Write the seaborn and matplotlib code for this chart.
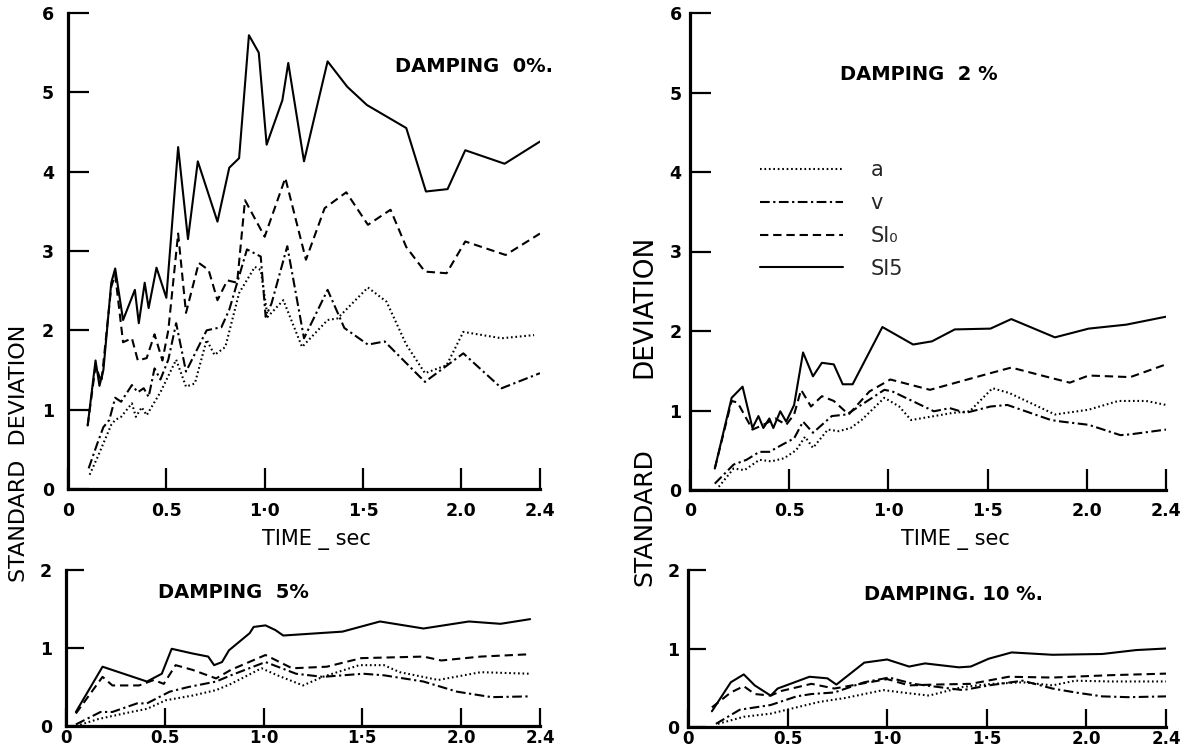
import matplotlib
matplotlib.use("Agg")
import matplotlib.pyplot as plt
from matplotlib.lines import Line2D
import seaborn as sns
import pandas as pd

# ---------------- data: standard deviation vs time (sec) ----------------
SERIES = ["a", "v", "SI\u2080", "SI5"]

# damping 0 %
T0_SI5 = [0.10, 0.14, 0.16, 0.18, 0.22, 0.24, 0.28, 0.34, 0.36, 0.39, 0.41, 0.45, 0.50, 0.56, 0.61,
          0.66, 0.76, 0.82, 0.87, 0.92, 0.97, 1.01, 1.09, 1.12, 1.20, 1.32, 1.42, 1.52, 1.72, 1.82,
          1.93, 2.02, 2.22, 2.40]
S0_SI5 = [0.80, 1.62, 1.30, 1.50, 2.60, 2.78, 2.13, 2.51, 2.09, 2.60, 2.28, 2.79, 2.41, 4.31, 3.15,
          4.13, 3.37, 4.05, 4.17, 5.72, 5.50, 4.34, 4.90, 5.37, 4.13, 5.39, 5.07, 4.84, 4.55, 3.75,
          3.78, 4.27, 4.10, 4.38]
T0_SI0 = [0.10, 0.14, 0.17, 0.22, 0.24, 0.28, 0.325, 0.355, 0.40, 0.44, 0.48, 0.51, 0.56, 0.60,
          0.665, 0.715, 0.76, 0.81, 0.86, 0.90, 1.00, 1.105, 1.21, 1.305, 1.415, 1.525, 1.64, 1.72,
          1.815, 1.925, 2.02, 2.225, 2.40]
S0_SI0 = [0.80, 1.55, 1.35, 2.55, 2.70, 1.85, 1.90, 1.62, 1.65, 1.95, 1.62, 2.00, 3.22, 2.22,
          2.85, 2.76, 2.38, 2.63, 2.60, 3.64, 3.18, 3.92, 2.89, 3.54, 3.74, 3.33, 3.52, 3.05,
          2.74, 2.72, 3.12, 2.95, 3.22]
T0_V = [0.105, 0.15, 0.18, 0.21, 0.24, 0.27, 0.325, 0.355, 0.385, 0.41, 0.44, 0.47, 0.51, 0.55,
        0.60, 0.705, 0.78, 0.82, 0.91, 0.98, 1.005, 1.035, 1.115, 1.20, 1.32, 1.405, 1.525, 1.61,
        1.815, 2.01, 2.205, 2.40]
S0_V = [0.26, 0.58, 0.78, 0.87, 1.15, 1.10, 1.31, 1.22, 1.27, 1.16, 1.52, 1.38, 1.63, 2.09,
        1.48, 2.00, 2.04, 2.26, 3.02, 2.93, 2.17, 2.34, 3.06, 1.90, 2.51, 2.03, 1.82, 1.86,
        1.35, 1.71, 1.27, 1.46]
T0_A = [0.11, 0.15, 0.22, 0.24, 0.27, 0.325, 0.345, 0.375, 0.40, 0.47, 0.55, 0.60, 0.645, 0.705,
        0.745, 0.80, 0.87, 0.95, 0.98, 1.015, 1.095, 1.19, 1.32, 1.37, 1.525, 1.62, 1.72, 1.815,
        1.925, 2.01, 2.205, 2.37]
S0_A = [0.18, 0.40, 0.81, 0.87, 0.91, 1.08, 0.91, 1.03, 0.93, 1.22, 1.63, 1.29, 1.33, 1.88,
        1.69, 1.79, 2.47, 2.80, 2.76, 2.17, 2.38, 1.79, 2.13, 2.15, 2.54, 2.36, 1.82, 1.46,
        1.56, 1.98, 1.90, 1.94]

# damping 2 %
T2_SI5 = [0.125, 0.21, 0.265, 0.315, 0.345, 0.37, 0.40, 0.42, 0.455, 0.485, 0.525, 0.57, 0.62,
          0.665, 0.725, 0.77, 0.82, 0.97, 1.125, 1.22, 1.335, 1.515, 1.62, 1.84, 2.01, 2.20, 2.40]
S2_SI5 = [0.27, 1.16, 1.30, 0.78, 0.93, 0.78, 0.90, 0.78, 0.99, 0.86, 1.07, 1.73, 1.43,
          1.60, 1.58, 1.33, 1.33, 2.05, 1.83, 1.87, 2.02, 2.03, 2.15, 1.92, 2.03, 2.08, 2.18]
T2_SI0 = [0.125, 0.21, 0.24, 0.315, 0.37, 0.43, 0.485, 0.525, 0.56, 0.61, 0.665, 0.725, 0.80,
          0.905, 1.01, 1.21, 1.515, 1.62, 1.82, 1.915, 2.01, 2.22, 2.40]
S2_SI0 = [0.27, 1.12, 1.10, 0.76, 0.82, 0.90, 0.82, 0.95, 1.26, 1.05, 1.18, 1.12, 0.95,
          1.24, 1.39, 1.26, 1.47, 1.54, 1.41, 1.35, 1.44, 1.42, 1.58]
T2_V = [0.125, 0.22, 0.285, 0.35, 0.40, 0.465, 0.525, 0.57, 0.62, 0.715, 0.79, 0.98, 1.02, 1.23,
        1.31, 1.39, 1.515, 1.60, 1.82, 1.875, 2.01, 2.17, 2.22, 2.40]
S2_V = [0.08, 0.32, 0.38, 0.48, 0.48, 0.57, 0.65, 0.86, 0.72, 0.93, 0.95, 1.26, 1.24, 0.99,
        1.03, 0.97, 1.05, 1.07, 0.88, 0.86, 0.82, 0.69, 0.70, 0.76]
T2_A = [0.145, 0.22, 0.275, 0.35, 0.41, 0.475, 0.535, 0.58, 0.62, 0.695, 0.75, 0.81, 0.865, 0.98,
        1.055, 1.115, 1.325, 1.41, 1.525, 1.61, 1.84, 2.01, 2.16, 2.30, 2.40]
S2_A = [0.04, 0.27, 0.25, 0.38, 0.36, 0.40, 0.50, 0.67, 0.53, 0.76, 0.74, 0.78, 0.88, 1.16,
        1.05, 0.88, 0.97, 0.99, 1.28, 1.22, 0.95, 1.01, 1.12, 1.12, 1.07]

# damping 5 %
T5_SI5 = [0.05, 0.185, 0.41, 0.485, 0.535, 0.64, 0.72, 0.75, 0.79, 0.825, 0.93, 0.95, 1.01, 1.06,
          1.10, 1.40, 1.59, 1.81, 2.04, 2.20, 2.35]
S5_SI5 = [0.18, 0.76, 0.57, 0.67, 0.99, 0.93, 0.89, 0.78, 0.82, 0.97, 1.19, 1.27, 1.29, 1.23,
          1.16, 1.21, 1.34, 1.25, 1.34, 1.31, 1.37]
T5_SI0 = [0.05, 0.185, 0.235, 0.37, 0.445, 0.495, 0.555, 0.64, 0.76, 0.835, 1.01, 1.145, 1.32,
          1.495, 1.81, 1.90, 2.10, 2.35]
S5_SI0 = [0.16, 0.63, 0.52, 0.52, 0.59, 0.54, 0.78, 0.72, 0.61, 0.72, 0.91, 0.74, 0.76,
          0.87, 0.89, 0.84, 0.89, 0.92]
T5_V = [0.05, 0.175, 0.235, 0.36, 0.41, 0.525, 0.62, 0.76, 0.835, 1.01, 1.165, 1.30, 1.505, 1.61,
        1.81, 1.98, 2.155, 2.35]
S5_V = [0.02, 0.18, 0.18, 0.29, 0.29, 0.44, 0.50, 0.57, 0.65, 0.82, 0.67, 0.63, 0.67, 0.65,
        0.57, 0.44, 0.37, 0.38]
T5_A = [0.05, 0.165, 0.33, 0.41, 0.505, 0.64, 0.76, 0.835, 0.99, 1.07, 1.20, 1.30, 1.485, 1.61,
        1.69, 1.885, 2.10, 2.35]
S5_A = [0.00, 0.09, 0.18, 0.22, 0.33, 0.39, 0.46, 0.54, 0.74, 0.65, 0.52, 0.63, 0.78, 0.78,
        0.69, 0.59, 0.69, 0.67]

# damping 10 %
T10_SI5 = [0.12, 0.215, 0.28, 0.335, 0.415, 0.45, 0.61, 0.70, 0.745, 0.885, 1.00, 1.11, 1.19,
           1.36, 1.42, 1.51, 1.625, 1.83, 2.08, 2.25, 2.40]
S10_SI5 = [0.20, 0.57, 0.67, 0.53, 0.40, 0.49, 0.64, 0.62, 0.54, 0.82, 0.86, 0.77, 0.81,
           0.76, 0.77, 0.87, 0.95, 0.92, 0.93, 0.98, 1.00]
T10_SI0 = [0.12, 0.215, 0.28, 0.335, 0.415, 0.47, 0.62, 0.735, 1.00, 1.11, 1.23, 1.42, 1.61,
           1.83, 2.12, 2.40]
S10_SI0 = [0.25, 0.44, 0.52, 0.42, 0.40, 0.46, 0.55, 0.49, 0.61, 0.53, 0.54, 0.55, 0.64,
           0.63, 0.66, 0.68]
T10_V = [0.14, 0.26, 0.415, 0.545, 0.62, 0.735, 0.885, 1.01, 1.13, 1.38, 1.51, 1.68, 1.83, 1.945,
         2.08, 2.21, 2.40]
S10_V = [0.04, 0.22, 0.28, 0.39, 0.42, 0.44, 0.57, 0.63, 0.55, 0.47, 0.53, 0.59, 0.49, 0.44,
         0.39, 0.38, 0.39]
T10_A = [0.15, 0.28, 0.415, 0.545, 0.66, 0.79, 0.98, 1.075, 1.21, 1.38, 1.53, 1.68, 1.83, 1.945,
         2.12, 2.40]
S10_A = [0.04, 0.13, 0.17, 0.25, 0.32, 0.37, 0.47, 0.44, 0.40, 0.51, 0.55, 0.57, 0.53, 0.59,
         0.58, 0.58]

X_TICKS = [0, 0.5, 1.0, 1.5, 2.0, 2.4]
X_TICKLABELS = ["0", "0.5", "1\u00b70", "1\u00b75", "2.0", "2.4"]
Y_TICKS_TOP = [0, 1, 2, 3, 4, 5, 6]
Y_TICKS_BOTTOM = [0, 1, 2]

# ---------------- styling ----------------
sns.set_style("ticks")
plt.rcParams["font.family"] = ["DejaVu Sans"]
plt.rcParams["lines.scale_dashes"] = False

DASHES = {
    "a": (1.2, 2.0),
    "v": (7.0, 2.5, 1.6, 2.5),
    "SI\u2080": (6.0, 3.5),
    "SI5": "",
}
LW = 1.5
W, H = 1190, 754

fig = plt.figure(figsize=(W / 100, H / 100), dpi=100)
fig.patch.set_facecolor("white")


def px_axes(x0, x1, y_top, y_bottom):
    """Axes from pixel extents (x of data 0 and 2.4, y of top and bottom limit)."""
    return fig.add_axes([x0 / W, 1 - y_bottom / H, (x1 - x0) / W, (y_bottom - y_top) / H])


def long_frame(pairs):
    rows = []
    for name, (t, s) in zip(SERIES, pairs):
        rows.append(pd.DataFrame({"time": t, "sd": s, "series": name}))
    return pd.concat(rows, ignore_index=True)


def draw_panel(ax, pairs, yticks, ticklen, ylabel_pad, xlabel_pad, xlabel_size):
    df = long_frame(pairs)
    sns.lineplot(data=df, x="time", y="sd", style="series", style_order=SERIES,
                 dashes=DASHES, color="black", linewidth=LW, estimator=None,
                 sort=False, legend=False, ax=ax)
    ax.set_xlim(0, 2.4)
    ax.set_ylim(yticks[0], yticks[-1])
    ax.set_xticks(X_TICKS)
    ax.set_xticklabels(X_TICKLABELS)
    ax.set_yticks(yticks)
    ax.set_yticklabels([str(v) for v in yticks])
    ax.set_xlabel("")
    ax.set_ylabel("")
    for side in ("top", "right"):
        ax.spines[side].set_visible(False)
    for side in ("left", "bottom"):
        ax.spines[side].set_linewidth(2.3)
        ax.spines[side].set_color("black")
    ax.tick_params(axis="both", direction="in", length=ticklen, width=1.6,
                   colors="black", labelsize=12.5)
    ax.tick_params(axis="x", pad=xlabel_pad, labelsize=xlabel_size)
    ax.tick_params(axis="y", pad=ylabel_pad)
    for lab in ax.get_xticklabels() + ax.get_yticklabels():
        lab.set_fontweight("bold")
    ax.set_facecolor("white")


ax_tl = px_axes(68, 540, 13, 489)
ax_tr = px_axes(690, 1166, 13, 490)
ax_bl = px_axes(66, 540, 570, 726)
ax_br = px_axes(688, 1166, 570, 727)

draw_panel(ax_tl, [(T0_A, S0_A), (T0_V, S0_V), (T0_SI0, S0_SI0), (T0_SI5, S0_SI5)],
           Y_TICKS_TOP, 15, 10, 9, 12.5)
draw_panel(ax_tr, [(T2_A, S2_A), (T2_V, S2_V), (T2_SI0, S2_SI0), (T2_SI5, S2_SI5)],
           Y_TICKS_TOP, 15, 6, 9, 12.5)
draw_panel(ax_bl, [(T5_A, S5_A), (T5_V, S5_V), (T5_SI0, S5_SI0), (T5_SI5, S5_SI5)],
           Y_TICKS_BOTTOM, 13, 10, 2, 12)
draw_panel(ax_br, [(T10_A, S10_A), (T10_V, S10_V), (T10_SI0, S10_SI0), (T10_SI5, S10_SI5)],
           Y_TICKS_BOTTOM, 13, 6, 2, 12)


def ftext(x, y, s, **kw):
    fig.text(x / W, 1 - y / H, s, ha="center", va="center", color="black", **kw)


# panel titles
ftext(474, 66, "DAMPING  0%.", fontsize=14, fontweight="bold")
ftext(919, 75, "DAMPING  2 %", fontsize=14, fontweight="bold")
ftext(233, 593, "DAMPING  5%", fontsize=14, fontweight="bold")
ftext(954, 594, "DAMPING. 10 %.", fontsize=14, fontweight="bold")

# time axis titles
ftext(316, 540, "TIME _ sec", fontsize=15)
ftext(955, 540, "TIME _ sec", fontsize=15)

# ordinate titles
ftext(19, 453, "STANDARD  DEVIATION", fontsize=16, rotation=90)
ftext(644, 517, "STANDARD", fontsize=18, rotation=90)
ftext(644, 306, "DEVIATION", fontsize=19, rotation=90)

# legend (line key) in the 2 % panel
handles = [Line2D([0], [0], color="black", linewidth=LW,
                  dashes=DASHES[name] if DASHES[name] else (None, None))
           for name in SERIES]
ax_tr.legend(handles, SERIES, loc="upper left",
             bbox_to_anchor=(760 / W, 1 - 160 / H), bbox_transform=fig.transFigure,
             frameon=False, fontsize=15, handlelength=4.0, handletextpad=1.3,
             labelspacing=0.62, borderpad=0, borderaxespad=0)

fig.savefig("out.png", dpi=100, facecolor="white")
